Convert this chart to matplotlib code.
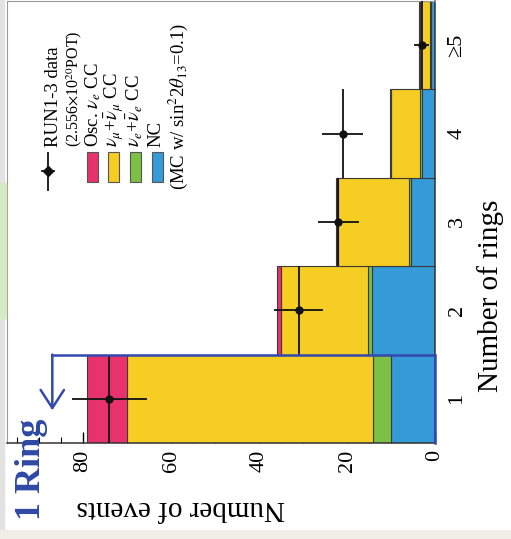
import numpy as np
import matplotlib.pyplot as plt
from matplotlib.patches import Rectangle
from matplotlib.lines import Line2D

plt.rcParams['font.family'] = ['Liberation Serif', 'DejaVu Serif']
plt.rcParams['mathtext.fontset'] = 'stix'

# chart values
rings = ['1', '2', '3', '4', '≥5']
data = [74, 31, 22, 21, 3]
nc = [10.0, 14.3, 5.5, 3.0, 1.0]
nue_beam = [4.2, 1.0, 0.5, 0.3, 0.1]
numu = [55.8, 19.8, 16.0, 6.7, 2.4]
osc_nue = [9.0, 0.8, 0.5, 0.2, 0.1]

legend_labels = [r'Osc. $\nu_e$ CC', r'$\nu_\mu$+$\bar{\nu}_\mu$ CC',
                 r'$\nu_e$+$\bar{\nu}_e$ CC', 'NC']

pink = '#e8326e'
yellow = '#f6cd22'
green = '#7cc143'
blue = '#349bd8'
dark_blue = '#3449b0'

W, H = 511, 539
fig = plt.figure(figsize=(W / 100, H / 100), dpi=100)


def fx(px):
    return px / W


def fy(py):
    return 1 - py / H


# slide background bits
fig.patches.append(Rectangle((0, fy(539)), fx(4), 1, transform=fig.transFigure,
                             color='#e2e2e2', zorder=0))
fig.patches.append(Rectangle((0, fy(318)), fx(6), (318 - 183) / H, transform=fig.transFigure,
                             color='#d6eac4', zorder=0))
fig.patches.append(Rectangle((0, 0), 1, 9 / H, transform=fig.transFigure,
                             color='#efefe8', zorder=0))

# chart is drawn rotated: categories vertical, counts horizontal (0 at right)
ax = fig.add_axes([fx(7), fy(443), fx(435) - fx(7), (443 - 1) / H])

pos = np.arange(1, len(rings) + 1)
left = np.zeros(len(rings))
for vals, c in zip([nc, nue_beam, numu, osc_nue], [blue, green, yellow, pink]):
    ax.barh(pos, vals, height=1.0, left=left, color=c, edgecolor='#3a3a3a', lw=0.8, zorder=2)
    left += np.array(vals)

ax.errorbar(data, pos, xerr=np.sqrt(data), yerr=0.5, fmt='o', color='#111111',
            ms=5, elinewidth=1.3, capsize=0, zorder=4)

ax.set_xlim(97.3, 0)
ax.set_ylim(0.5, 5.5)

ax.set_xticks([0, 20, 40, 60, 80])
ax.set_xticks(np.arange(0, 97, 5), minor=True)
ax.set_yticks(pos)
ax.set_yticklabels(rings)
ax.set_yticks(pos[:-1] + 0.5, minor=True)
ax.yaxis.tick_right()
ax.tick_params(axis='x', which='major', direction='in', length=8, width=1,
               labelsize=16, labelrotation=90, pad=5, top=False)
ax.tick_params(axis='x', which='minor', direction='in', length=4, width=0.8, top=False)
ax.tick_params(axis='y', which='major', length=0, labelsize=16, labelrotation=90, pad=9)
ax.tick_params(axis='y', which='minor', direction='in', length=7, width=1,
               left=False, right=True)
for lab in ax.get_yticklabels():
    lab.set_va('center')

for s in ['left', 'top']:
    ax.spines[s].set_color('#999999')
for s in ['right', 'bottom']:
    ax.spines[s].set_color('#333333')
    ax.spines[s].set_linewidth(1.1)

# "1 Ring" bracket arrow
ax.plot([0, 0, 87], [0.5, 1.5, 1.5], color=dark_blue, lw=1.8, clip_on=False, zorder=6,
        solid_joinstyle='miter')
ax.annotate('', xy=(87, 0.87), xytext=(87, 1.5),
            arrowprops=dict(arrowstyle='->,head_length=0.65,head_width=0.42',
                            mutation_scale=20, color=dark_blue, lw=1.8,
                            shrinkA=0, shrinkB=0), zorder=6)
fig.text(fx(31), fy(469), '1 Ring', rotation=90, ha='center', va='center',
         fontsize=26, fontweight='bold', color='#2e48a5')

# axis titles
fig.text(fx(491), fy(296), 'Number of rings', rotation=90, ha='center', va='center',
         fontsize=21)
fig.text(fx(181), fy(508), 'Number of events', rotation=180, ha='center', va='center',
         fontsize=21)

# legend (rotated)
fig.add_artist(Line2D([fx(48), fx(48)], [fy(153), fy(190)], color='#111111', lw=1.3))
fig.add_artist(Line2D([fx(42), fx(54)], [fy(171), fy(171)], color='#111111', lw=1.3))
fig.add_artist(Line2D([fx(48)], [fy(171)], marker='D', ms=5, color='#111111'))

text_kw = dict(rotation=90, rotation_mode='anchor', ha='left', va='center', fontsize=13.5)
fig.text(fx(54), fy(147), 'RUN1-3 data', **text_kw)
fig.text(fx(74), fy(147), r'(2.556$\times$10$^{20}$POT)', **dict(text_kw, fontsize=11.5))

swatch_x = [87, 108, 130, 152]
text_x = [93, 114, 135, 156]
for sx, tx, c, lab in zip(swatch_x, text_x, [pink, yellow, green, blue], legend_labels):
    fig.patches.append(Rectangle((fx(sx), fy(182)), fx(11), 30 / H, transform=fig.transFigure,
                                 facecolor=c, edgecolor='#555555', lw=0.8, zorder=5))
    fig.text(fx(tx), fy(147), lab, **text_kw)
fig.text(fx(178), fy(190), r'(MC w/ sin$^2$2$\theta_{13}$=0.1)', **text_kw)

fig.savefig('out.png', dpi=100)
